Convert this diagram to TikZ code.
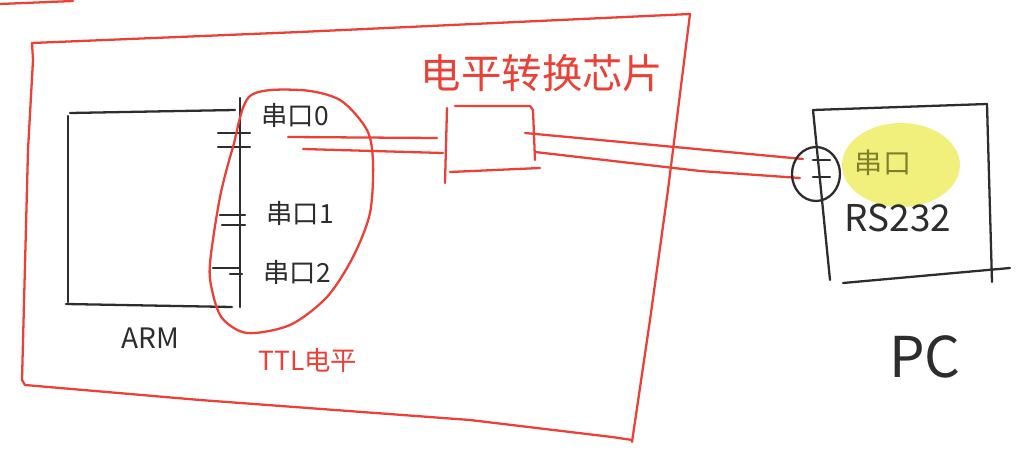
\documentclass[tikz,border=0pt]{standalone}
\usepackage{fontspec}
\setmainfont{Noto Sans CJK SC}
\usetikzlibrary{positioning}
\definecolor{redink}{RGB}{236,64,54}
\definecolor{blackink}{RGB}{45,45,45}
\definecolor{hilite}{RGB}{242,240,125}
\definecolor{oliveink}{RGB}{125,128,40}
\tikzset{
  redpen/.style={draw=redink},
  blackpen/.style={draw=blackink},
  txtblack/.style={inner sep=0pt, text=blackink},
  txtred/.style={inner sep=0pt, text=redink},
}
\newcommand{\fs}[1]{\fontsize{#1}{#1}\selectfont}
\begin{document}
\begin{tikzpicture}[x=0.02cm,y=-0.02cm,line width=1.3pt,line cap=round,line join=round]
		\useasboundingbox (0,0) rectangle (1022,463);
		\draw[redpen] (0,4) -- (73,1); % scrap at top left
		% board
		\draw[redpen] (32,43) -- (300,32) -- (690,14) -- (678,110) -- (668,190) -- (650,320) -- (632,442); % top, right
		\draw[redpen] (32,43) -- (33,60) -- (28,150) -- (22,380) -- (25,385); % left
		\draw[redpen] (25,385) -- (200,400) -- (470,420) -- (612,437) -- (632,440); % bottom
		% ARM box
		\draw[blackpen] (70,113) -- (235,110);
		\draw[blackpen] (68,116) -- (68,302);
		\draw[blackpen] (66,304) -- (232,307);
		\draw[blackpen] (240,98) -- (240,307);
		\coordinate (armbot) at (150,307);
		\node[txtblack, font=\fs{16}, below=11pt of armbot] (arm) {ARM};
		% pins
		\draw[blackpen] (218,133) -- (250,133);
		\draw[blackpen] (218,147) -- (250,147);
		\draw[blackpen] (220,215) -- (245,215);
		\draw[blackpen] (222,225) -- (245,225);
		\draw[blackpen] (213,268) -- (240,268);
		\draw[blackpen] (230,274) -- (242,274);
		\node[txtblack, font=\fs{15}] (port0) at (295,115) {串口0};
		\node[txtblack, font=\fs{15}] (port1) at (300,213) {串口1};
		\node[txtblack, font=\fs{15}] (port2) at (297,272) {串口2};
		% TTL loop
		\draw[redpen] plot[smooth cycle] coordinates {(250,96) (300,90) (340,100) (367,130) (373,163) (370,213) (353,257) (327,297) (290,325) (247,333) (222,318) (212,290) (210,263) (220,197) (233,147)};
		\node[txtred, font=\fs{15}] (ttl) at (308,360) {TTL电平};
		% level shifter chip
		\draw[redpen] (447,108) -- (445,183);
		\draw[redpen] (455,106) -- (530,106) -- (533,110) -- (535,160);
		\draw[redpen] (450,172) -- (540,168);
		\node[txtred, font=\fs{23}] (chipname) at (542,73) {电平转换芯片};
		% wires
		\coordinate (p0a) at (288,137);
		\coordinate (p0b) at (303,149);
		\coordinate (chipinA) at (437,138);
		\coordinate (chipinB) at (443,153);
		\coordinate (chipoutA) at (525,133);
		\coordinate (chipoutB) at (535,152);
		\coordinate (dbA) at (803,159);
		\coordinate (dbB) at (800,178);
		\draw[redpen] (p0a) -- (chipinA);
		\draw[redpen] (p0b) -- (chipinB);
		\draw[redpen] (chipoutA) -- (dbA);
		\draw[redpen] (chipoutB) -- (700,171) -- (dbB);
		% PC
		\fill[hilite] (901,165) ellipse [x radius=1.18cm, y radius=0.84cm];
		\draw[blackpen] (813,110) -- (987,104);
		\draw[blackpen] (813,110) -- (830,280);
		\draw[blackpen] (987,104) -- (992,282);
		\draw[blackpen] (843,283) -- (1010,268);
		\draw[blackpen] (816,174) ellipse [x radius=0.48cm, y radius=0.54cm]; % connector
		\draw[blackpen] (813,160) -- (830,160);
		\draw[blackpen] (813,177) -- (830,177);
		\node[inner sep=0pt, text=oliveink, font=\fs{16}] (pcport) at (883,163) {串口};
		\node[txtblack, font=\fs{21}] (rs) at (898,218) {RS232};
		\node[txtblack, font=\fs{32}] (pc) at (925,357) {PC};
\end{tikzpicture}
\end{document}
